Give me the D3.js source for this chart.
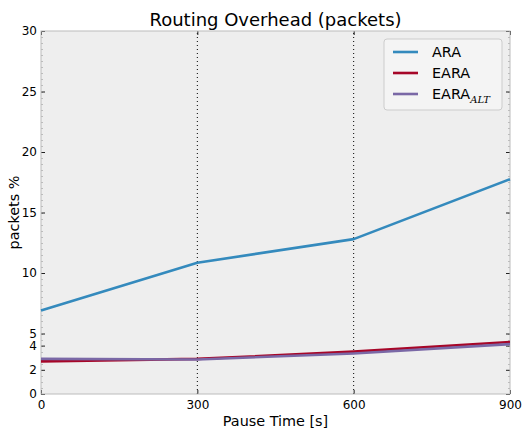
<!DOCTYPE html>
<html>
<head>
<meta charset="utf-8">
<script src="https://cdn.jsdelivr.net/npm/d3@7"></script>
<style>
  body { margin: 0; background: #fff; }
  svg { font-family: "DejaVu Sans", sans-serif; }
</style>
</head>
<body>
<svg id="chart" width="523" height="430"></svg>
<script>
// Routing overhead per pause time
const pauseTimes = [0, 300, 600, 900];
const ara = [6.9, 10.85, 12.8, 17.75];
const eara = [2.7, 2.9, 3.5, 4.3];
const earaAlt = [2.9, 2.85, 3.35, 4.12];
const yTicks = [0, 2, 4, 5, 10, 15, 20, 25, 30];
const xTicks = [0, 300, 600, 900];

const series = [
  { name: "ARA", sub: null, values: ara, color: "#348ABD" },
  { name: "EARA", sub: null, values: eara, color: "#A60628" },
  { name: "EARA", sub: "ALT", values: earaAlt, color: "#7A68A6" }
];

const margin = { left: 41, right: 13, top: 31, bottom: 36 };
const W = 523, H = 430;
const svg = d3.select("#chart");

const x = d3.scaleLinear().domain([0, 900]).range([margin.left, W - margin.right]);
const y = d3.scaleLinear().domain([0, 30]).range([H - margin.bottom, margin.top]);

// plot background
svg.append("rect")
  .attr("x", x(0)).attr("y", y(30))
  .attr("width", x(900) - x(0)).attr("height", y(0) - y(30))
  .attr("fill", "#eeeeee");

// dotted vertical grid at inner x ticks
svg.append("g").selectAll("line")
  .data(xTicks.filter(d => d > 0 && d < 900))
  .join("line")
  .attr("x1", d => x(d)).attr("x2", d => x(d))
  .attr("y1", y(0)).attr("y2", y(30))
  .attr("stroke", "#000").attr("stroke-width", 1)
  .attr("stroke-dasharray", "1,3");

// minor ticks on left and right spines
const minor = d3.range(0, 30.01, 0.5);
[[x(0), 2], [x(900), -2]].forEach(([px, len]) => {
  svg.append("g").selectAll("line").data(minor).join("line")
    .attr("x1", px).attr("x2", px + len)
    .attr("y1", d => Math.round(y(d)) + 0.5).attr("y2", d => Math.round(y(d)) + 0.5)
    .attr("stroke", "#bcbcbc").attr("stroke-width", 1);
});

// axes
const yAxisL = d3.axisLeft(y).tickValues(yTicks).tickSize(-4).tickPadding(4).tickFormat(d3.format("d"));
const yAxisR = d3.axisRight(y).tickValues(yTicks).tickSize(-4).tickFormat("");
const xAxisB = d3.axisBottom(x).tickValues(xTicks).tickSize(-4).tickPadding(6).tickFormat(d3.format("d"));
const xAxisT = d3.axisTop(x).tickValues(xTicks).tickSize(-4).tickFormat("");

function style(g) {
  g.select(".domain").remove();
  g.selectAll(".tick line").attr("stroke", "#222");
  g.selectAll(".tick text").attr("fill", "#000").attr("font-size", 12)
    .attr("font-family", "DejaVu Sans, sans-serif");
}
svg.append("g").attr("transform", `translate(${x(0)},0)`).call(yAxisL).call(style);
svg.append("g").attr("transform", `translate(${x(900)},0)`).call(yAxisR).call(style);
svg.append("g").attr("transform", `translate(0,${y(0)})`).call(xAxisB).call(style);
svg.append("g").attr("transform", `translate(0,${y(30)})`).call(xAxisT).call(style);

// spines
svg.append("rect")
  .attr("x", x(0)).attr("y", y(30))
  .attr("width", x(900) - x(0)).attr("height", y(0) - y(30))
  .attr("fill", "none").attr("stroke", "#bcbcbc").attr("stroke-width", 1);

// data lines
const line = d3.line().x((d, i) => x(pauseTimes[i])).y(d => y(d));
series.forEach(s => {
  svg.append("path")
    .datum(s.values)
    .attr("d", line)
    .attr("fill", "none")
    .attr("stroke", s.color)
    .attr("stroke-width", 2.6)
    .attr("stroke-linejoin", "round");
});

// title and axis labels
svg.append("text").attr("x", (x(0) + x(900)) / 2).attr("y", 26)
  .attr("text-anchor", "middle").attr("font-size", 18).text("Routing Overhead (packets)");
svg.append("text").attr("x", (x(0) + x(900)) / 2).attr("y", 426)
  .attr("text-anchor", "middle").attr("font-size", 14.4).text("Pause Time [s]");
svg.append("text")
  .attr("transform", `translate(19,${(y(0) + y(30)) / 2}) rotate(-90)`)
  .attr("text-anchor", "middle").attr("font-size", 14.4).text("packets %");

// legend
const lg = svg.append("g").attr("transform", "translate(384,39)");
lg.append("rect").attr("width", 118).attr("height", 71).attr("rx", 3)
  .attr("fill", "#f4f4f4").attr("stroke", "#cccccc").attr("stroke-width", 1);
series.forEach((s, i) => {
  const row = lg.append("g").attr("transform", `translate(0,${13 + i * 21})`);
  row.append("line").attr("x1", 9).attr("x2", 34).attr("y1", 0).attr("y2", 0)
    .attr("stroke", s.color).attr("stroke-width", 2.6);
  const t = row.append("text").attr("x", 48).attr("y", 5).attr("font-size", 14.4).text(s.name);
  if (s.sub) {
    t.append("tspan").attr("dy", 4).attr("font-size", 10)
      .attr("font-style", "italic").attr("font-family", "DejaVu Serif, serif").text(s.sub);
  }
});
</script>
</body>
</html>
